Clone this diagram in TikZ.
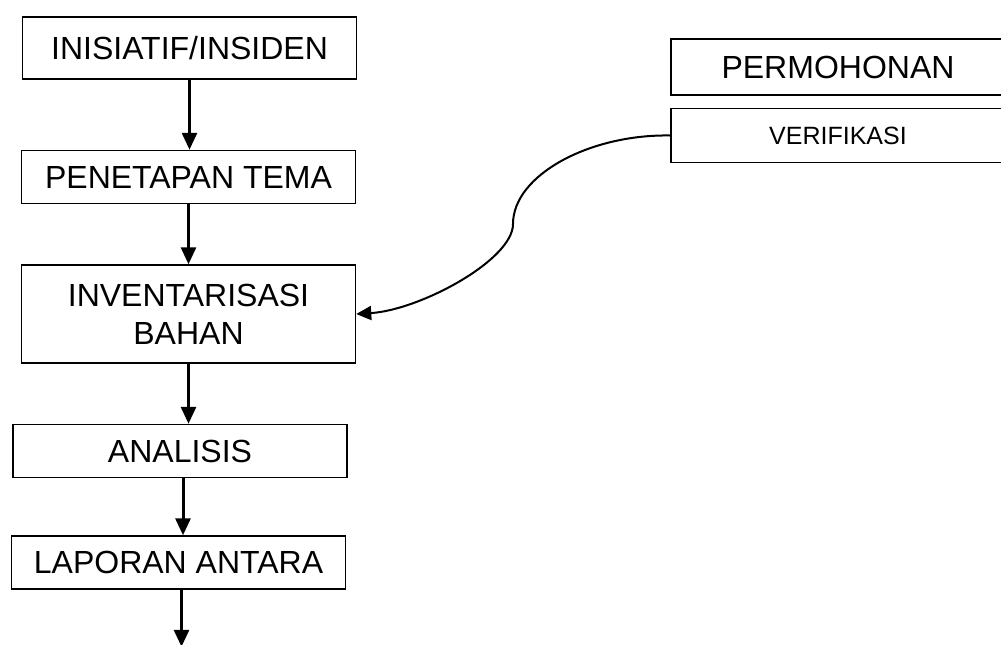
\documentclass[tikz,border=0pt]{standalone}
\usepackage{fontspec}
\setmainfont{Liberation Sans}
\usetikzlibrary{arrows.meta,positioning}

\begin{document}
\begin{tikzpicture}[-,auto,x=0.5pt,y=-0.5pt,
                    box node/.style={rectangle,draw,line width=0.75pt,inner sep=0pt,
                      minimum width=167pt,minimum height=26.5pt,align=center,
                      font=\fontsize{16}{19}\selectfont},
                    small node/.style={box node,font=\fontsize{12.5}{15}\selectfont},
                    flow/.style={line width=1.5pt,-{Triangle[length=8.5pt,width=7.5pt]}}]

  \clip (0,0) rectangle (1001,644);

  %Left column%
  \node[box node,minimum height=31pt] (init) at (189.5,48) {INISIATIF/INSIDEN};
  \node[box node] (tema) [below=35pt of init,xshift=-0.5pt] {PENETAPAN TEMA};
  \node[box node,minimum height=49pt] (bahan) [below=30pt of tema] {INVENTARISASI\\BAHAN};
  \node[box node] (analisis) [below=30pt of bahan,xshift=-4.25pt] {ANALISIS};
  \node[box node] (laporan) [below=28.5pt of analisis,xshift=-0.75pt] {LAPORAN ANTARA};
  \coordinate[below=28.5pt of laporan.south,xshift=1.5pt] (lanjut);

  %Right column%
  \node[box node,minimum height=28pt] (mohon) at (838,67) {PERMOHONAN};
  \node[small node,minimum height=27pt] (verif) [below=6pt of mohon] {VERIFIKASI};
  \coordinate (belok) at (513,224);

  \path[flow]
    %Left column%
    (init) edge (init.south |- tema.north)
    (tema.south) edge (tema.south |- bahan.north)
    (bahan.south) edge (bahan.south |- analisis.north)
    ([xshift=1.5pt]analisis.south) edge ([xshift=1.5pt]analisis.south |- laporan.north)
    ([xshift=1.5pt]laporan.south) edge (lanjut);

  \draw[line width=1pt,-{Triangle[length=7.5pt,width=7pt]}]
    (verif.west) .. controls (590,134) and (513,175) .. (belok)
                 .. controls (513,260) and (420,310) .. (bahan.east);
\end{tikzpicture}
\end{document}
